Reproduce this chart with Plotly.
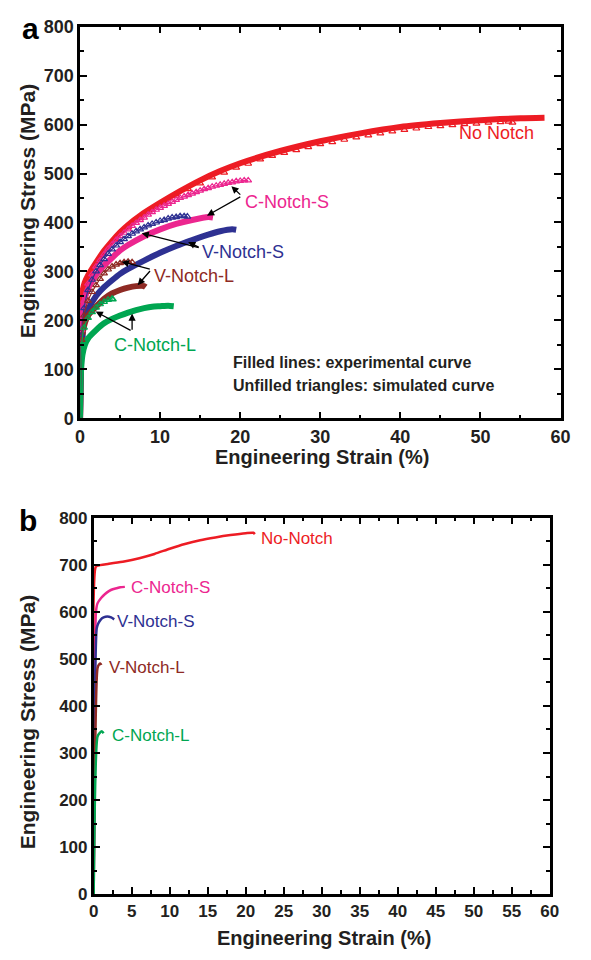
import plotly.graph_objects as go

# ---------------- Panel a data (strain %, stress MPa) ----------------
nn_exp_x = [0, 0.1, 0.3, 0.6, 1, 2, 3, 4, 5, 6, 7.5, 10, 12.5, 15, 17.5, 20, 25, 30, 35, 40, 45, 50, 55, 58]
nn_exp_y = [0, 150, 258, 278, 292, 318, 342, 362, 380, 395, 414, 440, 464, 486, 505, 521, 546, 566, 582, 595, 603, 609, 613, 614]
nn_sim_x = [0, 0.3, 0.8, 1.5, 3, 4.5, 6, 7.5, 9, 10.5, 12, 13.5, 15, 16.5, 18, 19.5, 21, 22.5, 24, 25.5,
            27, 28.5, 30, 31.5, 33, 34.5, 36, 37.5, 39, 40.5, 42, 43.5, 45, 46.5, 48, 49.5, 51, 52.5, 53.5, 54]
nn_sim_y = [0, 200, 270, 298, 336, 366, 390, 409, 426, 441, 455, 468, 480, 492, 502, 512, 520, 529, 536, 542,
            548, 554, 560, 564, 569, 574, 578, 582, 586, 589, 592, 595, 597, 599, 601, 602, 604, 605, 606, 604]

cs_exp_x = [0, 0.1, 0.3, 0.6, 1, 2, 3, 4, 5, 6, 8, 10, 12, 14, 16, 16.6]
cs_exp_y = [0, 120, 215, 245, 265, 293, 312, 328, 343, 354, 372, 386, 397, 405, 411, 410]
cs_sim_x = [0, 0.2, 0.5, 1, 1.5, 2, 2.5, 3, 3.5, 4, 4.5, 5, 5.5, 6, 6.5, 7, 7.5, 8, 8.5, 9, 9.5, 10,
            10.5, 11, 11.5, 12, 12.5, 13, 13.5, 14, 14.5, 15, 15.5, 16, 16.5, 17, 17.5, 18, 18.5, 19, 19.5, 20, 20.5, 21]
cs_sim_y = [0, 180, 240, 275, 294, 310, 323, 335, 346, 355, 364, 372, 379, 386, 393, 399, 405, 410, 416, 421, 426, 430,
            434, 438, 442, 446, 450, 453, 456, 459, 462, 465, 468, 470, 473, 475, 477, 479, 481, 482, 484, 485, 486, 486]

vs_exp_x = [0, 0.1, 0.3, 0.6, 1, 2, 3, 4, 5, 6, 8, 10, 12, 14, 16, 17.5, 19, 19.5]
vs_exp_y = [0, 100, 170, 200, 222, 250, 268, 282, 295, 305, 322, 338, 352, 364, 375, 382, 386, 385]
vs_sim_x = [0, 0.2, 0.5, 1, 1.5, 2, 2.5, 3, 3.5, 4, 4.5, 5, 5.5, 6, 6.5, 7, 7.5, 8, 8.5, 9, 9.5, 10,
            10.5, 11, 11.5, 12, 12.5, 13, 13.4]
vs_sim_y = [0, 170, 225, 262, 283, 300, 313, 325, 336, 345, 353, 360, 366, 372, 377, 382, 386, 390, 394, 397, 400, 403,
            405, 408, 410, 411, 413, 413, 412]

vl_exp_x = [0, 0.1, 0.3, 0.6, 1, 2, 3, 4, 5, 6, 7, 8, 8.2]
vl_exp_y = [0, 110, 170, 195, 210, 228, 244, 255, 262, 267, 270, 270, 268]
vl_sim_x = [0, 0.2, 0.5, 1, 1.5, 2, 2.5, 3, 3.5, 4, 4.5, 5, 5.5, 6, 6.5]
vl_sim_y = [0, 160, 210, 240, 258, 272, 285, 296, 304, 310, 314, 317, 319, 320, 319]

cl_exp_x = [0, 0.1, 0.3, 0.6, 1, 2, 3, 4, 5, 6, 7, 8, 9, 10, 11, 11.7]
cl_exp_y = [0, 90, 130, 150, 163, 180, 194, 203, 210, 216, 221, 225, 228, 229, 230, 229]
cl_sim_x = [0, 0.2, 0.5, 1, 1.5, 2, 2.5, 3, 3.5, 4, 4.1]
cl_sim_y = [0, 150, 185, 205, 217, 226, 233, 238, 242, 244, 243]

# ---------------- Panel b data ----------------
b_nn_x = [0, 0.25, 0.5, 2, 4, 6, 8, 10, 12, 14, 16, 18, 20, 21, 21.2]
b_nn_y = [0, 695, 698, 702, 707, 714, 723, 734, 744, 752, 758, 763, 767, 768, 765]
b_cs_x = [0, 0.3, 0.5, 1, 1.5, 2, 2.5, 3, 3.5, 4.1]
b_cs_y = [0, 600, 618, 630, 638, 644, 648, 650, 652, 653]
b_vs_x = [0, 0.4, 0.6, 0.9, 1.3, 1.8, 2.3, 2.7]
b_vs_y = [0, 565, 575, 583, 588, 590, 588, 584]
b_vl_x = [0, 0.5, 0.7, 0.9, 1.0]
b_vl_y = [0, 480, 488, 490, 487]
b_cl_x = [0, 0.5, 0.8, 1.1, 1.3]
b_cl_y = [0, 335, 343, 346, 342]

RED = "#ED1C24"
MAG = "#EC268F"
BLUE = "#2E3192"
BROWN = "#8E2A24"
GREEN = "#00A651"
INK = "#231F20"
FONT = "Liberation Sans, Arial, sans-serif"

fig = go.Figure()

def exp_line(x, y, c, ax="x", ay="y", w=6):
    fig.add_trace(go.Scatter(x=x, y=y, mode="lines", xaxis=ax, yaxis=ay,
                             line=dict(color=c, width=w, shape="spline", smoothing=0.6),
                             showlegend=False, hoverinfo="skip"))

def sim_pts(x, y, c, line=True):
    fig.add_trace(go.Scatter(x=x, y=y, mode="lines+markers" if line else "markers",
                             line=dict(color=c, width=1.2, shape="spline", smoothing=0.6),
                             marker=dict(symbol="triangle-up-open", size=6, color=c, line=dict(width=1.2, color=c)),
                             showlegend=False, hoverinfo="skip"))

# Panel a
exp_line(nn_exp_x, nn_exp_y, RED)
sim_pts(nn_sim_x, nn_sim_y, RED, line=False)
exp_line(cs_exp_x, cs_exp_y, MAG)
exp_line(vs_exp_x, vs_exp_y, BLUE)
exp_line(vl_exp_x, vl_exp_y, BROWN)
exp_line(cl_exp_x, cl_exp_y, GREEN)
sim_pts(cs_sim_x, cs_sim_y, MAG)
sim_pts(vs_sim_x, vs_sim_y, BLUE)
sim_pts(vl_sim_x, vl_sim_y, BROWN)
sim_pts(cl_sim_x, cl_sim_y, GREEN)

# Panel b
exp_line(b_cs_x, b_cs_y, MAG, "x2", "y2", 2.5)
exp_line(b_nn_x, b_nn_y, RED, "x2", "y2", 2.5)
exp_line(b_vs_x, b_vs_y, BLUE, "x2", "y2", 2.5)
exp_line(b_vl_x, b_vl_y, BROWN, "x2", "y2", 2.5)
exp_line(b_cl_x, b_cl_y, GREEN, "x2", "y2", 2.5)

ann = []

def label(x, y, t, c, xr="x", yr="y", size=18):
    ann.append(dict(x=x, y=y, xref=xr, yref=yr, text=t, showarrow=False, xanchor="left", yanchor="middle",
                    font=dict(family=FONT, size=size, color=c)))

def arrow(tx, ty, hx, hy):
    ann.append(dict(x=hx, y=hy, ax=tx, ay=ty, xref="x", yref="y", axref="x", ayref="y", text="",
                    showarrow=True, arrowhead=2, arrowsize=1.1, arrowwidth=1.3, arrowcolor="black", standoff=0))

def paper_text(px, py, t, size, color=INK, angle=0, xanchor="center", bold=True):
    ann.append(dict(x=px / 591, y=1 - py / 960, xref="paper", yref="paper", text=t, showarrow=False,
                    xanchor=xanchor, yanchor="middle", textangle=angle,
                    font=dict(family=FONT, size=size, color=color, weight="bold" if bold else "normal")))

label(47.1, 583, "No Notch", RED)
label(20.3, 442, "C-Notch-S", MAG)
arrow(20.2, 454, 18.9, 474)
arrow(20.2, 454, 15.85, 414)
label(15.0, 340, "V-Notch-S", BLUE)
arrow(15.0, 348, 7.7, 378)
arrow(15.0, 348, 13.5, 360)
label(9.0, 291, "V-Notch-L", BROWN)
arrow(8.9, 304, 5.2, 320)
arrow(8.9, 304, 7.2, 272)
label(4.0, 149, "C-Notch-L", GREEN)
arrow(6.5, 178, 1.95, 218)
arrow(6.5, 178, 6.5, 214)

paper_text(232, 360, "Filled lines: experimental curve", 16, xanchor="left")
paper_text(232, 383, "Unfilled triangles: simulated curve", 16, xanchor="left")

label(21.7, 755, "No-Notch", RED, "x2", "y2", 17)
label(4.6, 651, "C-Notch-S", MAG, "x2", "y2", 17)
label(2.8, 580, "V-Notch-S", BLUE, "x2", "y2", 17)
label(1.8, 482, "V-Notch-L", BROWN, "x2", "y2", 17)
label(2.2, 337, "C-Notch-L", GREEN, "x2", "y2", 17)

# panel letters and axis titles
paper_text(26, 19, "a", 30, color="black")
paper_text(24, 521, "b", 30, color="black")
paper_text(325, 456, "Engineering Strain (%)", 20)
paper_text(327, 948, "Engineering Strain (%)", 20)
paper_text(23, 205, "Engineering Stress (MPa)", 21, angle=-90)
paper_text(23, 727, "Engineering Stress (MPa)", 21, angle=-90)

tickfont = dict(family=FONT, size=18, color=INK, weight="bold")
common = dict(showline=True, linecolor="black", linewidth=2.5, mirror="allticks", ticks="inside",
              ticklen=7, tickwidth=2, tickcolor="black", showgrid=False, zeroline=False, tickfont=tickfont)

fig.update_layout(
    width=591, height=960, margin=dict(l=0, r=0, t=0, b=0),
    paper_bgcolor="white", plot_bgcolor="white",
    annotations=ann,
    xaxis=dict(domain=[77 / 591, 570 / 591], range=[0, 60], dtick=10, anchor="y",
               minor=dict(ticks="inside", ticklen=4, tickwidth=2, dtick=5, tickcolor="black"), **common),
    yaxis=dict(domain=[1 - 417 / 960, 1 - 17 / 960], range=[0, 800], dtick=100, anchor="x",
               minor=dict(ticks="inside", ticklen=4, tickwidth=2, dtick=50, tickcolor="black"), **common),
    xaxis2=dict(domain=[91 / 591, 559 / 591], range=[0, 60], dtick=5, anchor="y2",
                minor=dict(ticks="inside", ticklen=4, tickwidth=2, dtick=2.5, tickcolor="black"), **common),
    yaxis2=dict(domain=[1 - 903 / 960, 1 - 518.5 / 960], range=[0, 800], dtick=100, anchor="x2",
                minor=dict(ticks="inside", ticklen=4, tickwidth=2, dtick=50, tickcolor="black"), **common),
)
fig.update_layout(xaxis2=dict(tickfont=dict(size=17)), yaxis2=dict(tickfont=dict(size=17)))

fig.write_html("out.html")
